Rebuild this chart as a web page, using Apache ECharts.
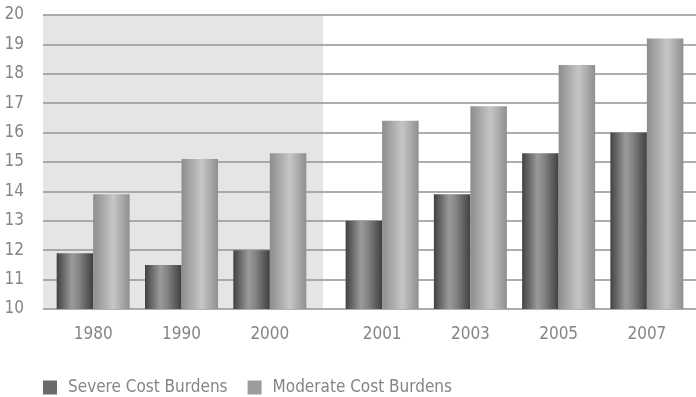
<!DOCTYPE html>
<html>
<head>
<meta charset="utf-8">
<script src="https://cdn.jsdelivr.net/npm/echarts@6/dist/echarts.min.js"></script>
<style>
  html, body { margin: 0; padding: 0; background: #fff; }
  #chart { width: 696px; height: 397px; }
</style>
</head>
<body>
<div id="chart"></div>
<script>
// Census years (shaded block) and the later survey years
const yearsEarly = ['1980', '1990', '2000'];
const yearsLate = ['2001', '2003', '2005', '2007'];

// Share of households with cost burdens (percent)
const severeEarly = [11.9, 11.5, 12.0];
const moderateEarly = [13.9, 15.1, 15.3];
const severeLate = [13.0, 13.9, 15.3, 16.0];
const moderateLate = [16.4, 16.9, 18.3, 19.2];

const yMin = 10, yMax = 20, yStep = 1;

const FONT = "'DejaVu Sans Condensed', Roboto, sans-serif";
const TEXT = '#858585';

const severeFill = new echarts.graphic.LinearGradient(0, 0, 1, 0, [
  { offset: 0, color: '#424242' },
  { offset: 0.42, color: '#9a9a9a' },
  { offset: 0.6, color: '#858585' },
  { offset: 0.92, color: '#4e4e4e' },
  { offset: 1, color: '#3e3e3e' }
]);
const moderateFill = new echarts.graphic.LinearGradient(0, 0, 1, 0, [
  { offset: 0, color: '#8d8d8d' },
  { offset: 0.55, color: '#c6c6c6' },
  { offset: 1, color: '#8f8f8f' }
]);

const hiddenY = (gi) => ({ type: 'value', gridIndex: gi, min: yMin, max: yMax, interval: yStep, show: false });
const catX = (gi, data) => ({
  type: 'category', gridIndex: gi, data: data,
  axisLine: { show: false }, axisTick: { show: false },
  axisLabel: { color: TEXT, fontFamily: FONT, fontSize: 17, margin: 17 }
});

const bar = (name, xi, data, fill) => ({
  name: name, type: 'bar', xAxisIndex: xi, yAxisIndex: xi,
  data: data, barWidth: 36.5, barGap: '0%',
  itemStyle: { color: fill }
});

const chart = echarts.init(document.getElementById('chart'), null, { renderer: 'canvas' });
chart.setOption({
  animation: false,
  backgroundColor: '#fff',
  grid: [
    { left: 43, right: 0, top: 15, height: 294 },
    { left: 43, width: 280, top: 15, height: 294, show: true, backgroundColor: '#e5e5e5', borderWidth: 0, z: -1 },
    { left: 49, width: 265, top: 15, height: 294 },
    { left: 338, width: 353, top: 15, height: 294 }
  ],
  xAxis: [
    { type: 'value', gridIndex: 0, min: 0, max: 1, show: false },
    { type: 'value', gridIndex: 1, min: 0, max: 1, show: false },
    catX(2, yearsEarly),
    catX(3, yearsLate)
  ],
  yAxis: [
    {
      type: 'value', gridIndex: 0, min: yMin, max: yMax, interval: yStep,
      axisLine: { show: false }, axisTick: { show: false },
      axisLabel: { color: TEXT, fontFamily: FONT, fontSize: 17, margin: 19 },
      splitLine: { lineStyle: { color: '#939393', width: 1.5 } }
    },
    hiddenY(1),
    hiddenY(2),
    hiddenY(3)
  ],
  legend: {
    left: 38, top: 374, itemWidth: 14, itemHeight: 14, itemGap: 20,
    icon: 'rect',
    textStyle: { color: TEXT, fontFamily: FONT, fontSize: 17, padding: [0, 0, 0, 6] },
    data: [
      { name: 'Severe Cost Burdens', itemStyle: { color: '#6b6b6b' } },
      { name: 'Moderate Cost Burdens', itemStyle: { color: '#9c9c9c' } }
    ]
  },
  series: [
    bar('Severe Cost Burdens', 2, severeEarly, severeFill),
    bar('Moderate Cost Burdens', 2, moderateEarly, moderateFill),
    bar('Severe Cost Burdens', 3, severeLate, severeFill),
    bar('Moderate Cost Burdens', 3, moderateLate, moderateFill)
  ]
});
</script>
</body>
</html>
